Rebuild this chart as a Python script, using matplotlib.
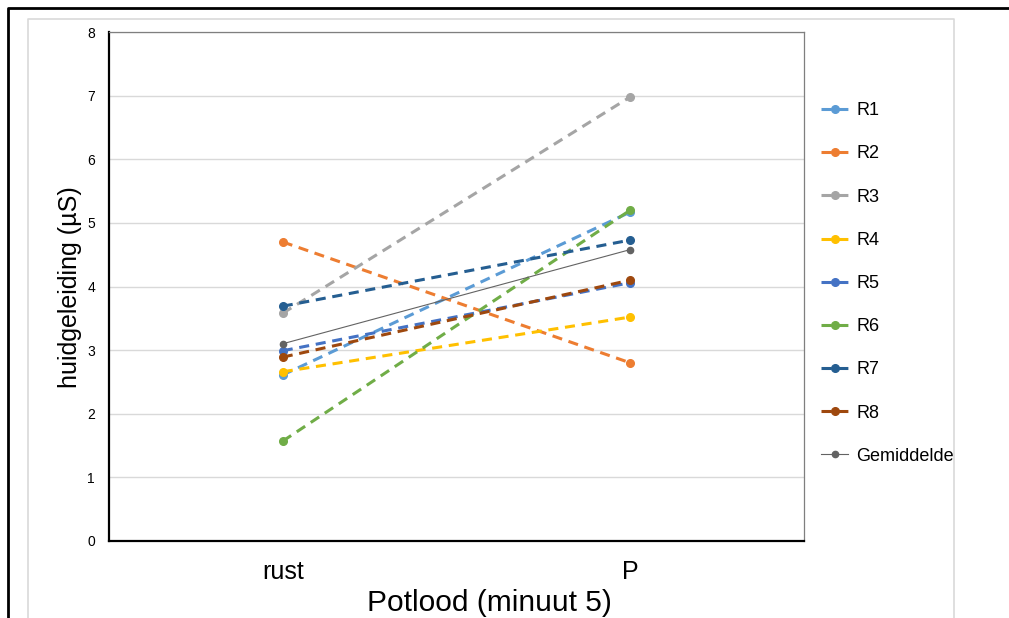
import matplotlib.pyplot as plt
from matplotlib.lines import Line2D
import numpy as np

plt.rcParams['font.family'] = ['Liberation Sans', 'DejaVu Sans']

categories = ['rust', 'P']
series = ['R1', 'R2', 'R3', 'R4', 'R5', 'R6', 'R7', 'R8']
values = {
    'R1': [2.61, 5.17],
    'R2': [4.70, 2.80],
    'R3': [3.58, 6.98],
    'R4': [2.66, 3.52],
    'R5': [2.99, 4.06],
    'R6': [1.57, 5.20],
    'R7': [3.69, 4.73],
    'R8': [2.89, 4.10],
}
gemiddelde = [3.10, 4.58]
colors = ['#5B9BD5', '#ED7D31', '#A5A5A5', '#FFC000',
          '#4472C4', '#70AD47', '#255E91', '#9E480E']

W, H = 1009, 618
fig = plt.figure(figsize=(W / 100, H / 100), dpi=100)
ax = fig.add_axes([109 / W, 1 - 541 / H, (804 - 109) / W, (541 - 32) / H])

x = np.arange(len(categories))
for name, c in zip(series, colors):
    ax.plot(x, values[name], color=c, lw=2.2, dashes=(3.3, 2.2),
            marker='o', ms=5.5, label=name, solid_capstyle='butt',
            dash_capstyle='butt')
ax.plot(x, gemiddelde, color='#636363', lw=0.8, marker='o', ms=4.5,
        label='Gemiddelde')

ax.set_xlim(-0.5, 1.5)
ax.set_ylim(0, 8)
ax.set_yticks(range(0, 9))
ax.set_xticks(x)
ax.set_xticklabels(categories, fontsize=18)
ax.tick_params(axis='x', length=0, pad=14)
ax.tick_params(axis='y', length=0, pad=10, labelsize=10)
ax.grid(axis='y', color='#D9D9D9', lw=1)
ax.set_axisbelow(True)

for side in ['left', 'bottom']:
    ax.spines[side].set_color('black')
    ax.spines[side].set_linewidth(1.6)
for side in ['top', 'right']:
    ax.spines[side].set_color('#7F7F7F')
    ax.spines[side].set_linewidth(0.9)

fig.text(70 / W, 0.535, 'huidgeleiding (µS)', rotation=90,
         ha='center', va='center', fontsize=18)
fig.text(489.5 / W, 1 / H, 'Potlood (minuut 5)', ha='center',
         va='bottom', fontsize=21.5)

ax.legend(loc='center left', bbox_to_anchor=(812 / W, 1 - 283.5 / H),
          bbox_transform=fig.transFigure, frameon=False, fontsize=13,
          borderpad=0, handlelength=1.5, handletextpad=0.45,
          labelspacing=1.45)

# chart area and outer frame
fig.add_artist(Line2D([28 / W, 28 / W, 954 / W, 954 / W],
                      [0, 1 - 19 / H, 1 - 19 / H, 0],
                      color='#D9D9D9', lw=1.2))
fig.add_artist(Line2D([8 / W, 8 / W, 1], [0, 1 - 8 / H, 1 - 8 / H],
                      color='black', lw=2))

fig.savefig('out.png', dpi=100)
